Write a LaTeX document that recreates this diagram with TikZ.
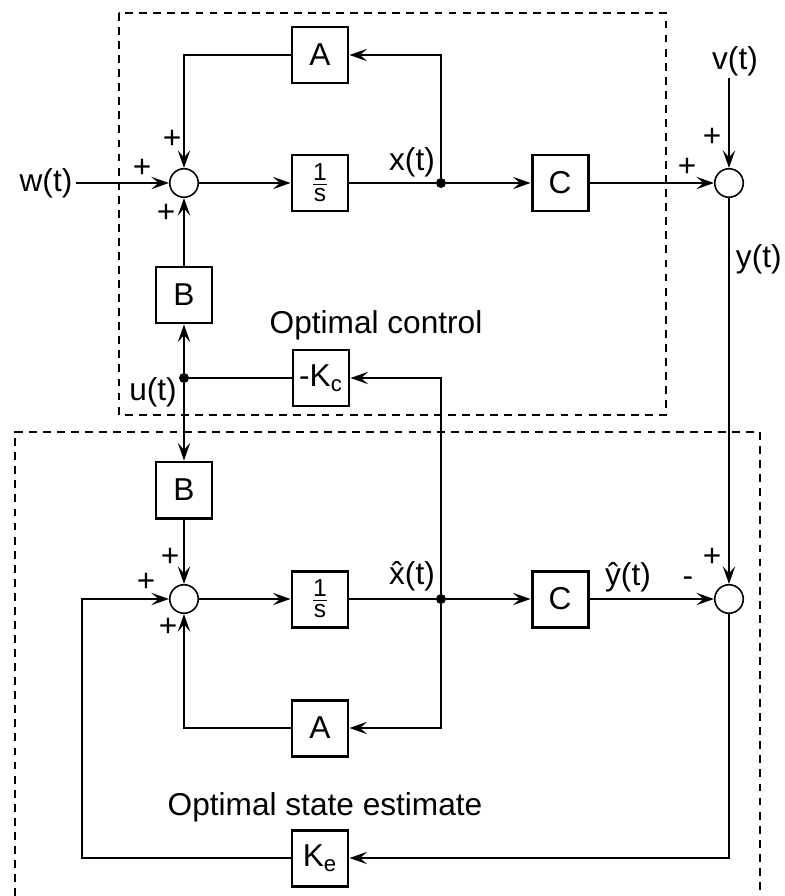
\documentclass[tikz,border=0pt]{standalone}
\usepackage{fontspec}
\setmainfont{Liberation Sans}
\usepackage{tikz}
\usetikzlibrary{arrows.meta}
\newcommand{\invs}{{\fontsize{14}{14}\selectfont
  $\vcenter{\halign{\hfil##\hfil\cr 1\cr\noalign{\kern2pt\hrule height0.6pt\kern2pt}s\cr}}$}}
\tikzset{
  blk/.style={draw, line width=1.7pt, minimum width=11.2mm, minimum height=11.2mm,
    inner sep=0pt},
  sumc/.style={draw, circle, line width=0.9pt, minimum size=5.7mm, inner sep=0pt},
  wire/.style={line width=1.25pt},
  arr/.style={wire, -{Stealth[length=10pt,width=7pt,inset=4pt]}},
  jdot/.style={circle, fill, inner sep=0pt, minimum size=2mm},
}

\begin{document}
\begin{tikzpicture}[x=0.2mm, y=-0.2mm, font=\fontsize{18}{21}\selectfont,
  groupbox/.style={dash pattern=on 4.5pt off 3.5pt, line width=0.9pt},
]
  \useasboundingbox (0,0) rectangle (784,896);
  \draw[groupbox] (119,13) rectangle (666,415);
  \draw[groupbox] (15,896) -- (15,432) -- (760,432) -- (760,896);

  % plant and controller
  \node[sumc] (sp) at (184,183) {};
  \node[blk] (intp) at (320,183) {\invs};
  \node[blk] (Ap) at (320,55) {A};
  \node[blk] (Bp) at (184,295) {B};
  \node[blk] (Cp) at (560,183) {C};
  \node[sumc] (sy) at (729,183) {};
  \node[jdot] (jx) at (441,183) {};
  \node[blk] (Kc) at (321,378) {-K\textsubscript{c}};
  \node[jdot] (ju) at (184,378) {};
  \node[inner sep=2pt] (w) at (46,183) {w(t)};
  \node[inner sep=1pt] (v) at (735,61) {v(t)};
  \node (xl) at (412,162) {x(t)};
  \node (ul) at (153,392) {u(t)};
  \node (ctl) at (376,325) {Optimal control};
  \node (sp-n) at (172,139) {+};
  \node (sp-w) at (142,168) {+};
  \node (sp-s) at (166,213) {+};
  \node (sy-n) at (712,137) {+};
  \node (sy-w) at (687,167) {+};

  % estimator
  \node[blk] (Be) at (184,490) {B};
  \node[sumc] (se) at (184,599) {};
  \node[blk] (inte) at (320,599) {\invs};
  \node[jdot] (jxh) at (441,599) {};
  \node[blk] (Ce) at (560,599) {C};
  \node[sumc] (sr) at (729,599) {};
  \node[blk] (Ae) at (320,728) {A};
  \node[blk] (Ke) at (320,858) {K\textsubscript{e}};
  \coordinate (fb) at (82,599);
  \node (xhl) at (412,576) {\^{x}(t)};
  \node (yhl) at (628,577) {\^{y}(t)};
  \node (est) at (325,807) {Optimal state estimate};
  \node (se-n) at (170,557) {+};
  \node (se-w) at (146,582) {+};
  \node (se-s) at (168,627) {+};
  \node (sr-n) at (712,557) {+};
  \node (sr-w) at (688,582) {-};

  \draw[arr] (w) -- (sp);
  \draw[arr] (sp) -- (intp);
  \draw[wire] (intp) -- (jx);
  \draw[arr] (jx) -- (Cp);
  \draw[arr] (jx) |- (Ap);
  \draw[arr] (Ap) -| (sp);
  \draw[arr] (Cp) -- (sy);
  \draw[arr] (v.south -| sy) -- (sy);
  \draw[arr] (sy) -- node[right, pos=0.16] {y(t)} (sr);
  \draw[arr] (Bp) -- (sp);
  \draw[wire] (Kc) -- (ju);
  \draw[arr] (ju) -- (Bp);
  \draw[arr] (ju) -- (Be);
  \draw[arr] (jxh) |- (Kc);

  \draw[arr] (Be) -- (se);
  \draw[arr] (se) -- (inte);
  \draw[wire] (inte) -- (jxh);
  \draw[arr] (jxh) -- (Ce);
  \draw[arr] (Ce) -- (sr);
  \draw[arr] (jxh) |- (Ae);
  \draw[arr] (Ae) -| (se);
  \draw[arr] (sr) |- (Ke);
  \draw[arr] (Ke) -| (fb) -- (se);
\end{tikzpicture}
\end{document}
